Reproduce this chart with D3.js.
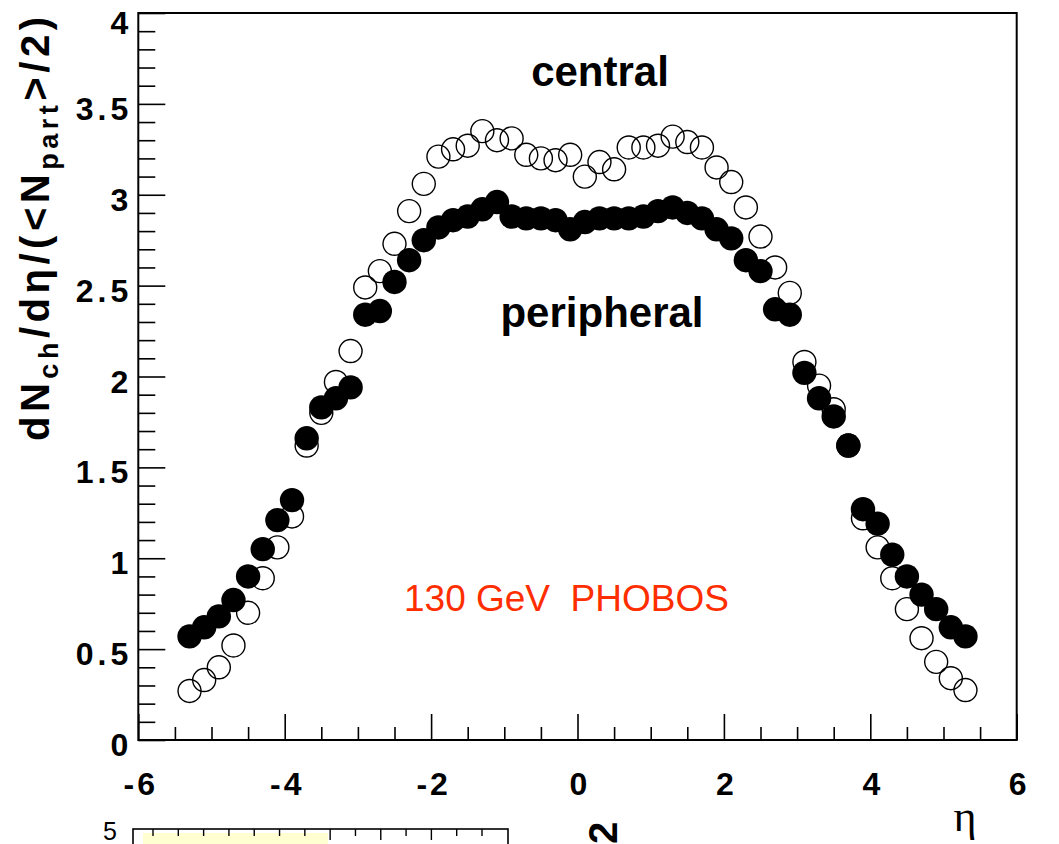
<!DOCTYPE html>
<html><head><meta charset="utf-8">
<script src="https://cdn.jsdelivr.net/npm/d3@7/dist/d3.min.js"></script>
<style>html,body{margin:0;padding:0;background:#fff;overflow:hidden}</style>
</head><body>
<svg id="c" width="1059" height="844"></svg>
<script>
// ---- data ----
const eta = [-5.3,-5.1,-4.9,-4.7,-4.5,-4.3,-4.1,-3.9,-3.7,-3.5,-3.3,-3.1,-2.9,-2.7,-2.5,-2.3,-2.1,-1.9,-1.7,-1.5,-1.3,-1.1,-0.9,-0.7,-0.5,-0.3,-0.1,
             0.1,0.3,0.5,0.7,0.9,1.1,1.3,1.5,1.7,1.9,2.1,2.3,2.5,2.7,2.9,3.1,3.3,3.5,3.7,3.9,4.1,4.3,4.5,4.7,4.9,5.1,5.3];
const central = [0.27,0.33,0.40,0.52,0.70,0.89,1.06,1.23,1.62,1.80,1.97,2.14,2.49,2.58,2.73,2.91,3.06,3.21,3.25,3.27,3.35,3.30,3.31,3.22,3.20,3.19,3.22,
                 3.10,3.18,3.14,3.26,3.26,3.27,3.32,3.29,3.26,3.15,3.07,2.93,2.77,2.60,2.46,2.08,1.95,1.82,1.62,1.22,1.06,0.89,0.72,0.56,0.43,0.34,0.275];
const peripheral = [0.57,0.62,0.68,0.77,0.90,1.05,1.21,1.32,1.66,1.83,1.88,1.94,2.34,2.36,2.52,2.64,2.75,2.82,2.86,2.88,2.92,2.96,2.88,2.87,2.87,2.86,2.81,
                    2.85,2.87,2.87,2.87,2.88,2.91,2.93,2.90,2.87,2.81,2.76,2.64,2.58,2.37,2.34,2.02,1.88,1.78,1.62,1.27,1.19,1.02,0.90,0.80,0.72,0.62,0.57];
const xTickLabels = ["-6","-4","-2","0","2","4","6"];
const yTickLabels = ["0","0.5","1","1.5","2","2.5","3","3.5","4"];
const seriesLabels = ["central","peripheral"];
const noteText = "130 GeV\u00a0\u00a0PHOBOS";

// ---- layout ----
const svg = d3.select("#c");
const L = 138.3, R = 1016.7, T = 13, B = 740;
const x = d3.scaleLinear().domain([-6, 6]).range([L, R]);
const y = d3.scaleLinear().domain([0, 4]).range([B, T]);
const SANS = "'Liberation Sans', Arial, Helvetica, sans-serif";

// frame
svg.append("rect").attr("x", L).attr("y", T).attr("width", R - L).attr("height", B - T)
  .attr("fill", "none").attr("stroke", "#000").attr("stroke-width", 2);

// x axis: minor & major ticks (inside, upward)
const xMajor = xTickLabels.map(Number);
const xMinor = d3.range(-6, 6.001, 0.5).filter(v => Math.abs(v % 2) > 1e-6);
const gxm = svg.append("g").attr("transform", `translate(0,${B})`)
  .call(d3.axisBottom(x).tickValues(xMinor).tickSize(-13).tickFormat(""));
const gx = svg.append("g").attr("transform", `translate(0,${B})`)
  .call(d3.axisBottom(x).tickValues(xMajor).tickSize(-26).tickFormat((d, i) => xTickLabels[i]));
[gxm, gx].forEach(g => { g.select(".domain").remove(); g.selectAll("line").attr("stroke", "#000").attr("stroke-width", 1.6); });
gx.selectAll("text").attr("y", 55).attr("dy", 0).attr("dx", 2)
  .attr("font-family", SANS).attr("font-weight", "bold").attr("font-size", 32)
  .attr("letter-spacing", 3).attr("fill", "#000");

// y axis
const yMajor = yTickLabels.map(Number);
const yMinor = d3.range(0, 4.0001, 0.1).filter(v => Math.abs(v * 2 - Math.round(v * 2)) > 1e-6);
const gym = svg.append("g").attr("transform", `translate(${L},0)`)
  .call(d3.axisLeft(y).tickValues(yMinor).tickSize(-17).tickFormat(""));
const gy = svg.append("g").attr("transform", `translate(${L},0)`)
  .call(d3.axisLeft(y).tickValues(yMajor).tickSize(-27).tickFormat((d, i) => yTickLabels[i]));
[gym, gy].forEach(g => { g.select(".domain").remove(); g.selectAll("line").attr("stroke", "#000").attr("stroke-width", 1.6); });
gy.selectAll("text").attr("x", -6).attr("dy", 0)
  .attr("y", d => Math.max(y(d) + 15.5, 33) - y(d))
  .attr("font-family", SANS).attr("font-weight", "bold").attr("font-size", 32)
  .attr("letter-spacing", 4).attr("fill", "#000");

// y title
const title = svg.append("text").attr("transform", "translate(49,441) rotate(-90)")
  .attr("font-family", SANS).attr("font-weight", "bold").attr("font-size", 40).attr("fill", "#000");
title.append("tspan").text("dN");
title.append("tspan").attr("font-size", 27).attr("dy", 9).text("ch");
title.append("tspan").attr("dy", -9).text("/d\u03b7/(<N");
title.append("tspan").attr("font-size", 27).attr("dy", 9).text("part");
title.append("tspan").attr("dy", -9).text(">/2)");
title.attr("textLength", 424).attr("lengthAdjust", "spacing");

// x title (eta)
svg.append("text").attr("x", 965).attr("y", 831).attr("text-anchor", "middle")
  .attr("font-family", "'Liberation Serif', 'DejaVu Serif', serif").attr("font-size", 44).attr("fill", "#000")
  .text("\u03b7");

// data markers: open (central) below, filled (peripheral) on top
const rows = eta.map((e, i) => ({ e, c: central[i], p: peripheral[i] }));
svg.append("g").selectAll("circle").data(rows).join("circle")
  .attr("cx", d => x(d.e)).attr("cy", d => y(d.c)).attr("r", 11.5)
  .attr("fill", "none").attr("stroke", "#000").attr("stroke-width", 1.4);
svg.append("g").selectAll("circle").data(rows).join("circle")
  .attr("cx", d => x(d.e)).attr("cy", d => y(d.p)).attr("r", 12.2)
  .attr("fill", "#000");

// annotations
svg.append("text").attr("x", 600).attr("y", 86).attr("text-anchor", "middle")
  .attr("font-family", SANS).attr("font-weight", "bold").attr("font-size", 42).attr("fill", "#000")
  .text(seriesLabels[0]);
svg.append("text").attr("x", 602).attr("y", 327).attr("text-anchor", "middle")
  .attr("font-family", SANS).attr("font-weight", "bold").attr("font-size", 42).attr("fill", "#000")
  .text(seriesLabels[1]);
svg.append("text").attr("x", 404).attr("y", 611).attr("text-anchor", "start")
  .attr("font-family", SANS).attr("font-size", 37).attr("fill", "#ff2e00")
  .text(noteText);

// ---- partial second panel at the bottom (cut off) ----
const x2 = d3.scaleLinear().domain([0, 13]).range([153, 482]);
svg.append("rect").attr("x", 143).attr("y", 833).attr("width", 185).attr("height", 20).attr("fill", "#ffffd2");
svg.append("rect").attr("x", 133).attr("y", 829).attr("width", 375).attr("height", 40)
  .attr("fill", "none").attr("stroke", "#000").attr("stroke-width", 1.6);
svg.append("g").selectAll("line").data(d3.range(0, 14)).join("line")
  .attr("x1", d => x2(d)).attr("x2", d => x2(d)).attr("y1", 829).attr("y2", d => (d === 7 || d === 9 || d === 11) ? 840 : 836)
  .attr("stroke", "#000").attr("stroke-width", 1.4);
svg.append("text").attr("x", 117).attr("y", 840).attr("text-anchor", "end")
  .attr("font-family", SANS).attr("font-size", 25).attr("fill", "#000").text("5");
svg.append("text").attr("transform", "translate(617,844) rotate(-90)")
  .attr("font-family", SANS).attr("font-weight", "bold").attr("font-size", 40).attr("fill", "#000").text("2");
</script>
</body></html>
